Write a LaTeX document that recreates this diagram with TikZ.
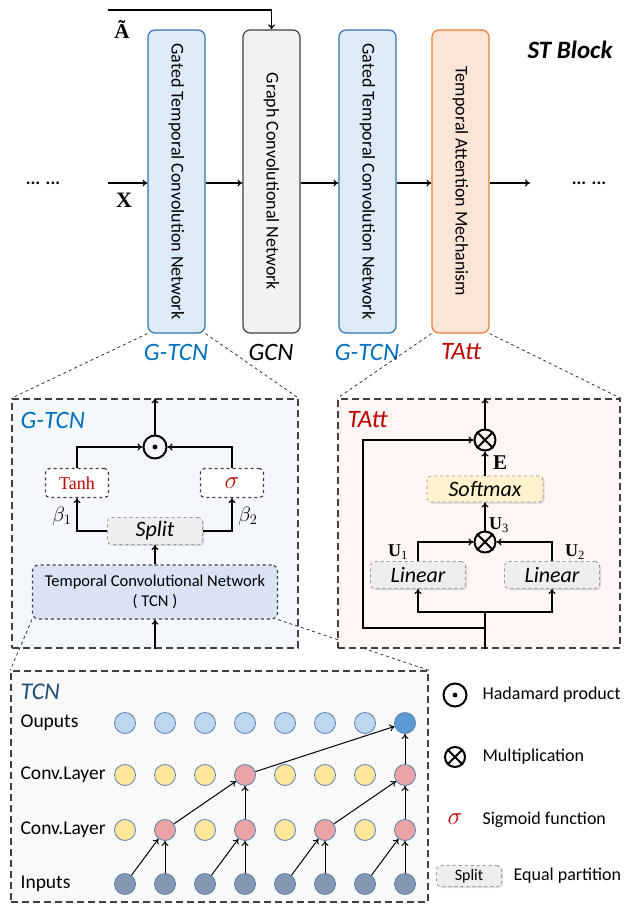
\documentclass[tikz,border=0pt]{standalone}
\usepackage{graphicx}
\usepackage{fontspec}
\setmainfont{Carlito}
\newfontfamily\timesfont{Liberation Serif}
\usetikzlibrary{arrows.meta,shadows}

\definecolor{gtcnfill}{HTML}{DEEBF7}
\definecolor{gtcnline}{HTML}{2E75B6}
\definecolor{gcnfill}{HTML}{F2F2F2}
\definecolor{gcnline}{HTML}{404040}
\definecolor{tattfill}{HTML}{FBE5D6}
\definecolor{tattline}{HTML}{ED7D31}
\definecolor{gtcntext}{HTML}{0070C0}
\definecolor{tatttext}{HTML}{C00000}
\definecolor{tcntext}{HTML}{1F4E79}
\definecolor{gtcnbg}{HTML}{F4F7FC}
\definecolor{tattbg}{HTML}{FDF6F3}
\definecolor{tcnbg}{HTML}{F9F9F9}
\definecolor{tcnfill}{HTML}{DAE3F3}
\definecolor{opfill}{HTML}{EEEEEE}
\definecolor{smfill}{HTML}{FFF2CC}
\definecolor{cellline}{HTML}{5A7FAE}
\definecolor{cellyel}{HTML}{FFE699}
\definecolor{cellred}{HTML}{EBA3A8}
\definecolor{cellout}{HTML}{BDD7EE}
\definecolor{cellhi}{HTML}{5B9BD5}
\definecolor{cellin}{HTML}{8497B0}

\newcommand{\fsz}[1]{\fontsize{#1}{#1}\selectfont}

\begin{document}
\begin{tikzpicture}[x=1pt,y=-1pt,>={To[length=5pt,width=7pt]},line width=1.2pt,
    blk/.style={draw,rounded corners=7pt,minimum width=57pt,minimum height=303pt,inner sep=0pt,font=\fsz{18}},
    lbl/.style={inner sep=0pt,font=\fsz{25}\itshape},
    zoomline/.style={dashed,line width=0.8pt,draw=black!80},
    dashbox/.style={draw=black!75,line width=1.5pt,dash pattern=on 7pt off 4pt},
    actbox/.style={draw=black!75,dashed,rounded corners=4pt,fill=white,minimum width=63pt,minimum height=29pt,inner sep=0pt},
    opbox/.style={draw=black!40,dashed,line width=0.8pt,rounded corners=4pt,inner sep=0pt,
        drop shadow={shadow xshift=1.5pt,shadow yshift=-1.5pt,opacity=0.25},font=\fsz{22}\itshape},
    opc/.style={circle,draw,line width=2pt,minimum size=21pt,inner sep=0pt},
    cell/.style={circle,draw=cellline,line width=0.8pt,minimum size=21pt,inner sep=0pt},
    rowlbl/.style={anchor=west,inner sep=0pt,font=\fsz{19.5}},
    leg/.style={anchor=west,inner sep=0pt,font=\fsz{18}},
    matlbl/.style={inner sep=0pt,font=\fsz{21}\timesfont\bfseries},
    sublbl/.style={inner sep=0pt,font=\fsz{18}\timesfont\bfseries},
    dotsy/.style={font=\fsz{18}\bfseries}]
\useasboundingbox (0,0) rectangle (624,905);

\node[blk,fill=gtcnfill,draw=gtcnline] (blk1) at (176.5,181.5) {\rotatebox{-90}{Gated Temporal Convolution Network}};
\node[blk,fill=gcnfill,draw=gcnline] (blk2) at (271.5,181.5) {\rotatebox{-90}{Graph Convolutional Network}};
\node[blk,fill=gtcnfill,draw=gtcnline] (blk3) at (367.5,181.5) {\rotatebox{-90}{Gated Temporal Convolution Network}};
\node[blk,fill=tattfill,draw=tattline] (blk4) at (460.5,181.5) {\rotatebox{-90}{Temporal Attention Mechanism}};

\coordinate (xin) at (108,183);
\coordinate (xout) at (530,183);
\coordinate (ain) at (108,10);
\node[dotsy] (dotl) at (43,183) {... ...};
\node[dotsy] (dotr) at (589,183) {... ...};
\node[matlbl] (atil) at (122,29) {Ã};
\node[matlbl,font=\fsz{22}\timesfont\bfseries] (xlbl) at (124,200) {X};
\node[font=\fsz{25}\bfseries\itshape] (st) at (570,50) {ST Block};

\draw[->] (ain) -| (blk2.north);
\draw[->] (xin) -- (blk1.west |- xin);
\draw[->] (blk1.east |- xin) -- (blk2.west |- xin);
\draw[->] (blk2.east |- xin) -- (blk3.west |- xin);
\draw[->] (blk3.east |- xin) -- (blk4.west |- xin);
\draw[->] (blk4.east |- xin) -- (xout);

\node[lbl,text=gtcntext] (l1) at (176,352) {G-TCN};
\node[lbl] (l2) at (271,352) {GCN};
\node[lbl,text=gtcntext] (l3) at (367,352) {G-TCN};
\node[lbl,text=tatttext] (l4) at (461,352) {TAtt};

% G-TCN detail
\node[dashbox,fill=gtcnbg,minimum width=286pt,minimum height=249pt] (gbox) at (155,523.5) {};
\draw[zoomline] (blk1.south west) -- (gbox.north west);
\draw[zoomline] (blk1.south east) -- (gbox.north east);
\node[lbl,anchor=west,text=gtcntext] (gname) at (20,420) {G-TCN};
\node[opc,minimum size=23pt] (had) at (155,447) {};
\fill (had.center) circle (2.4);
\node[actbox,font=\fsz{18}\timesfont,text=tatttext] (tanh) at (77,483) {Tanh};
\node[actbox,font=\fsz{25},text=tatttext] (sig) at (232,483) {$\sigma$};
\node[opbox,fill=opfill,minimum width=95pt,minimum height=27pt] (split) at (155,531) {Split};
\node[draw=black!75,dashed,rounded corners=6pt,fill=tcnfill,minimum width=245pt,minimum height=54pt,
    align=center,font=\fsz{16.5}] (tcn) at (155,592) {Temporal Convolutional Network\\[3pt]( TCN )};
\node[font=\fsz{22}] (b1) at (62,516) {$\beta_1$};
\node[font=\fsz{22}] (b2) at (248,516) {$\beta_2$};
\draw[->] (gbox.south) -- (tcn.south);
\draw[->] (tcn.north) -- (split.south);
\draw[->] (split.west) -| (tanh.south);
\draw[->] (split.east) -| (sig.south);
\draw[->] (tanh.north) |- (had.west);
\draw[->] (sig.north) |- (had.east);
\draw[->] (had.north) -- (had |- gbox.north);

% TCN detail
\node[dashbox,fill=tcnbg,minimum width=417pt,minimum height=231pt] (cbox) at (219.5,786.5) {};
\node[lbl,anchor=west,text=tcntext,font=\fsz{24}\itshape] (cname) at (20,692) {TCN};
\node[rowlbl] (r1) at (20,723) {Ouputs};
\node[rowlbl] (r2) at (20,775) {Conv.Layer};
\node[rowlbl] (r3) at (20,830) {Conv.Layer};
\node[rowlbl] (r4) at (20,884) {Inputs};
\foreach \i in {0,...,7}
  \node[cell,fill=cellin] (in\i) at (125+40*\i,884) {};
\foreach \i in {0,2,4,6}
  \node[cell,fill=cellyel] (la\i) at (125+40*\i,830) {};
\foreach \i in {1,3,5,7}
  \node[cell,fill=cellred] (la\i) at (125+40*\i,830) {};
\foreach \i in {0,1,2,4,5,6}
  \node[cell,fill=cellyel] (lb\i) at (125+40*\i,775) {};
\foreach \i in {3,7}
  \node[cell,fill=cellred] (lb\i) at (125+40*\i,775) {};
\foreach \i in {0,...,6}
  \node[cell,fill=cellout] (out\i) at (125+40*\i,723) {};
\node[cell,fill=cellhi] (out7) at (405,723) {};
\foreach \i in {1,3,5,7} {
  \pgfmathtruncatemacro\j{\i-1}
  \draw[->,line width=1pt] (in\j) -- (la\i);
  \draw[->,line width=1pt] (in\i) -- (la\i);
}
\draw[->,line width=1pt] (la1) -- (lb3);
\draw[->,line width=1pt] (la3) -- (lb3);
\draw[->,line width=1pt] (la5) -- (lb7);
\draw[->,line width=1pt] (la7) -- (lb7);
\draw[->,line width=1pt] (lb3) -- (out7);
\draw[->,line width=1pt] (lb7) -- (out7);
\draw[zoomline] (tcn.south west) -- (cbox.north west);
\draw[zoomline] (tcn.south east) -- (cbox.north east);

% TAtt detail
\node[dashbox,fill=tattbg,minimum width=282pt,minimum height=249pt] (tbox) at (479,523.5) {};
\draw[zoomline] (blk4.south west) -- (tbox.north west);
\draw[zoomline] (blk4.south east) -- (tbox.north east);
\node[lbl,anchor=west,text=tatttext] (tname) at (347,420) {TAtt};
\node[opc] (m1) at (485,440) {};
\draw[line width=2pt] (m1.north west) -- (m1.south east) (m1.north east) -- (m1.south west);
\node[opbox,fill=smfill,minimum width=116pt,minimum height=26pt] (smax) at (485,489) {Softmax};
\node[opc] (m2) at (485,542) {};
\draw[line width=2pt] (m2.north west) -- (m2.south east) (m2.north east) -- (m2.south west);
\node[opbox,fill=opfill,minimum width=95pt,minimum height=27pt] (lin1) at (418,575) {Linear};
\node[opbox,fill=opfill,minimum width=95pt,minimum height=27pt] (lin2) at (552,575) {Linear};
\node[matlbl] (elbl) at (500,463) {E};
\node[sublbl] (u3) at (499,525) {U\textsubscript{\mdseries 3}};
\node[sublbl] (u1) at (398,552) {U\textsubscript{\mdseries 1}};
\node[sublbl] (u2) at (575,552) {U\textsubscript{\mdseries 2}};
\coordinate (fork) at (485,612);
\coordinate (skip) at (485,628);
\coordinate (loop) at (363,628);
\draw (m1 |- tbox.south) -- (fork);
\draw[->] (fork) -| (lin1.south);
\draw[->] (fork) -| (lin2.south);
\draw[->] (skip) -- (loop) |- (m1.west);
\draw[->] (lin1.north) |- (m2.west);
\draw[->] (lin2.north) |- (m2.east);
\draw[->] (m2.north) -- (smax.south);
\draw[->] (smax.north) -- (m1.south);
\draw[->] (m1.north) -- (m1 |- tbox.north);

% legend
\node[opc,minimum size=23pt] (lhad) at (455,695) {};
\fill (lhad.center) circle (2.4);
\node[leg] (t1) at (482,695) {Hadamard product};
\node[opc,minimum size=20pt] (lmul) at (455,757) {};
\draw[line width=2pt] (lmul.north west) -- (lmul.south east) (lmul.north east) -- (lmul.south west);
\node[leg] (t2) at (482,757) {Multiplication};
\node[font=\fsz{25},text=tatttext] (lsig) at (455,819) {$\sigma$};
\node[leg] (t3) at (482,820) {Sigmoid function};
\node[opbox,fill=opfill,font=\fsz{16},minimum width=65pt,minimum height=21pt] (lsplit) at (469,876) {Split};
\node[leg] (t4) at (513,876) {Equal partition};
\end{tikzpicture}
\end{document}
